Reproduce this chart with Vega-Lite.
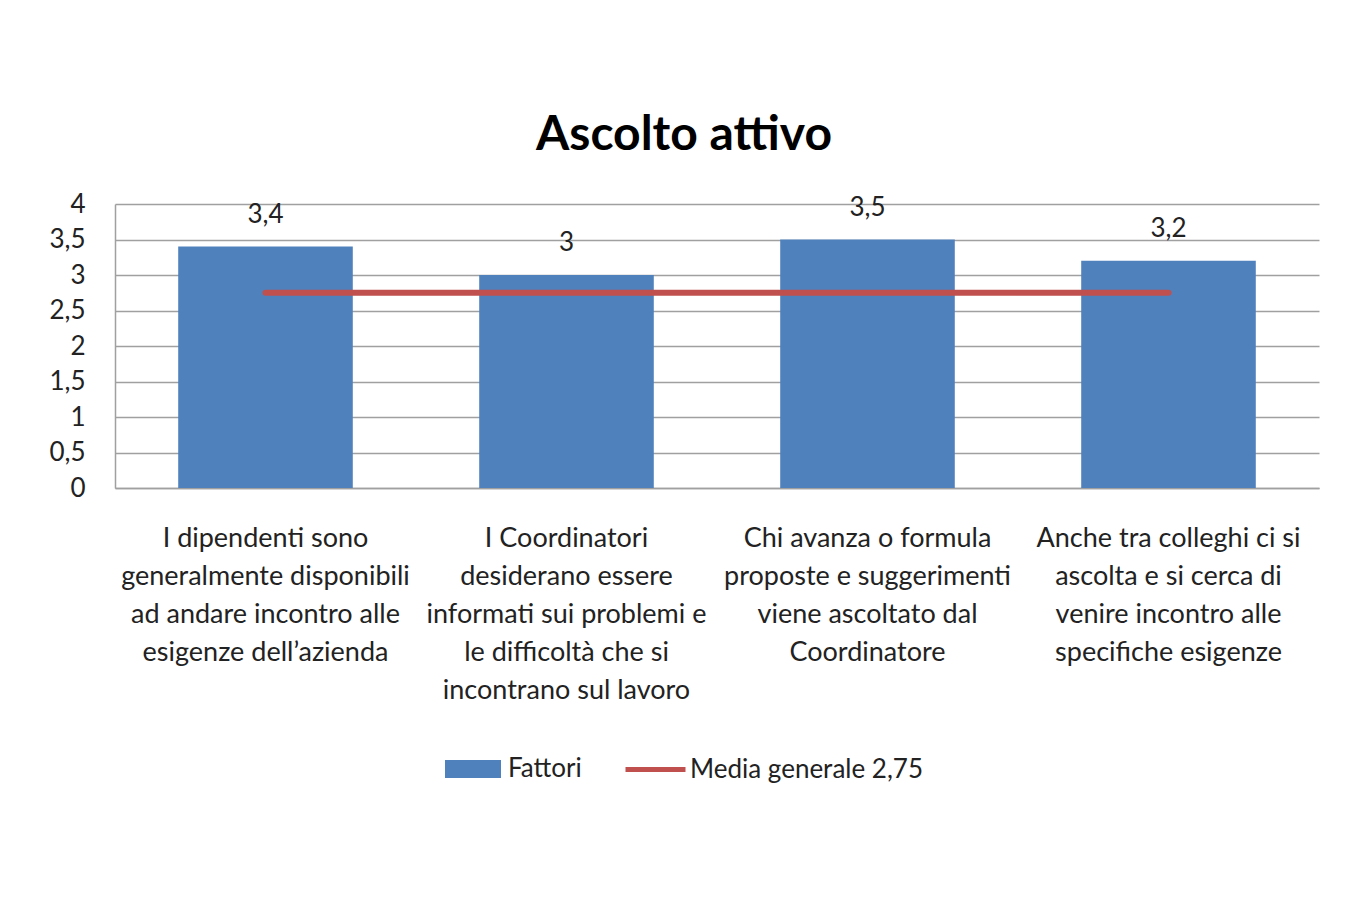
{
  "$schema": "https://vega.github.io/schema/vega-lite/v6.json",
  "width": 1204,
  "height": 284,
  "padding": {"left": 48, "top": 112, "right": 41, "bottom": 10},
  "autosize": {"type": "pad"},
  "background": "white",
  "title": {"text": "Ascolto attivo", "fontSize": 48, "fontWeight": "bold", "font": "Lato", "color": "#000000", "anchor": "middle", "frame": "bounds", "offset": 31},
  "config": {
    "locale": {"number": {"decimal": ",", "thousands": ".", "grouping": [3], "currency": ["", " €"]}},
    "view": {"stroke": null},
    "font": "Lato",
    "axisY": {"tickCount": 8, "labelOverlap": false, "format": "~g", "ticks": false, "labelPadding": 30, "labelFontSize": 26, "labelColor": "#222222", "domainColor": "#a0a0a0", "domainWidth": 1.5, "gridColor": "#a0a0a0", "gridWidth": 1.5}
  },
  "data": {"values": [
    {"fattore": "I dipendenti sono|generalmente disponibili|ad andare incontro alle|esigenze dell’azienda", "valore": 3.4, "media": 2.75},
    {"fattore": "I Coordinatori|desiderano essere|informati sui problemi e|le difficoltà che si|incontrano sul lavoro", "valore": 3.0, "media": 2.75},
    {"fattore": "Chi avanza o formula|proposte e suggerimenti|viene ascoltato dal|Coordinatore", "valore": 3.5, "media": 2.75},
    {"fattore": "Anche tra colleghi ci si|ascolta e si cerca di|venire incontro alle|specifiche esigenze", "valore": 3.2, "media": 2.75}
  ]},
  "encoding": {
    "x": {
      "field": "fattore", "type": "nominal", "sort": null,
      "scale": {"paddingInner": 0.42, "paddingOuter": 0.21},
      "axis": {"title": null, "labelAngle": 0, "labelExpr": "split(datum.value, '|')", "labelFontSize": 27, "labelLineHeight": 38, "labelPadding": 37, "ticks": false, "domainColor": "#a0a0a0", "domainWidth": 1.5, "labelColor": "#222222", "labelLimit": 0}
    }
  },
  "layer": [
    {
      "mark": {"type": "bar", "color": "#4F81BD"},
      "encoding": {
        "y": {"field": "valore", "type": "quantitative", "title": null, "scale": {"domain": [0, 4]}},
        "color": {"datum": "Fattori", "type": "nominal", "scale": {"range": ["#4F81BD"]},
          "legend": {"title": null, "orient": "none", "legendX": 330, "legendY": 537, "symbolType": "M-1,-0.32H1V0.32H-1Z", "symbolSize": 3136, "symbolStrokeWidth": 0, "labelFontSize": 26, "labelOffset": 7, "labelColor": "#222222", "labelLimit": 0}}
      }
    },
    {
      "mark": {"type": "text", "baseline": "bottom", "dy": -19, "fontSize": 26, "color": "#222222"},
      "encoding": {
        "y": {"field": "valore", "type": "quantitative", "title": null},
        "text": {"field": "valore", "type": "quantitative", "format": "~g"}
      }
    },
    {
      "mark": {"type": "line", "strokeWidth": 6, "strokeCap": "round"},
      "encoding": {
        "y": {"field": "media", "type": "quantitative", "title": null},
        "stroke": {"datum": "Media generale 2,75", "type": "nominal", "scale": {"range": ["#C0504D"]},
          "legend": {"title": null, "orient": "none", "legendX": 508, "legendY": 533, "symbolType": "stroke", "symbolSize": 3600, "symbolStrokeWidth": 5, "labelFontSize": 26, "labelOffset": 2, "labelColor": "#222222", "labelLimit": 0}}
      }
    }
  ]
}
